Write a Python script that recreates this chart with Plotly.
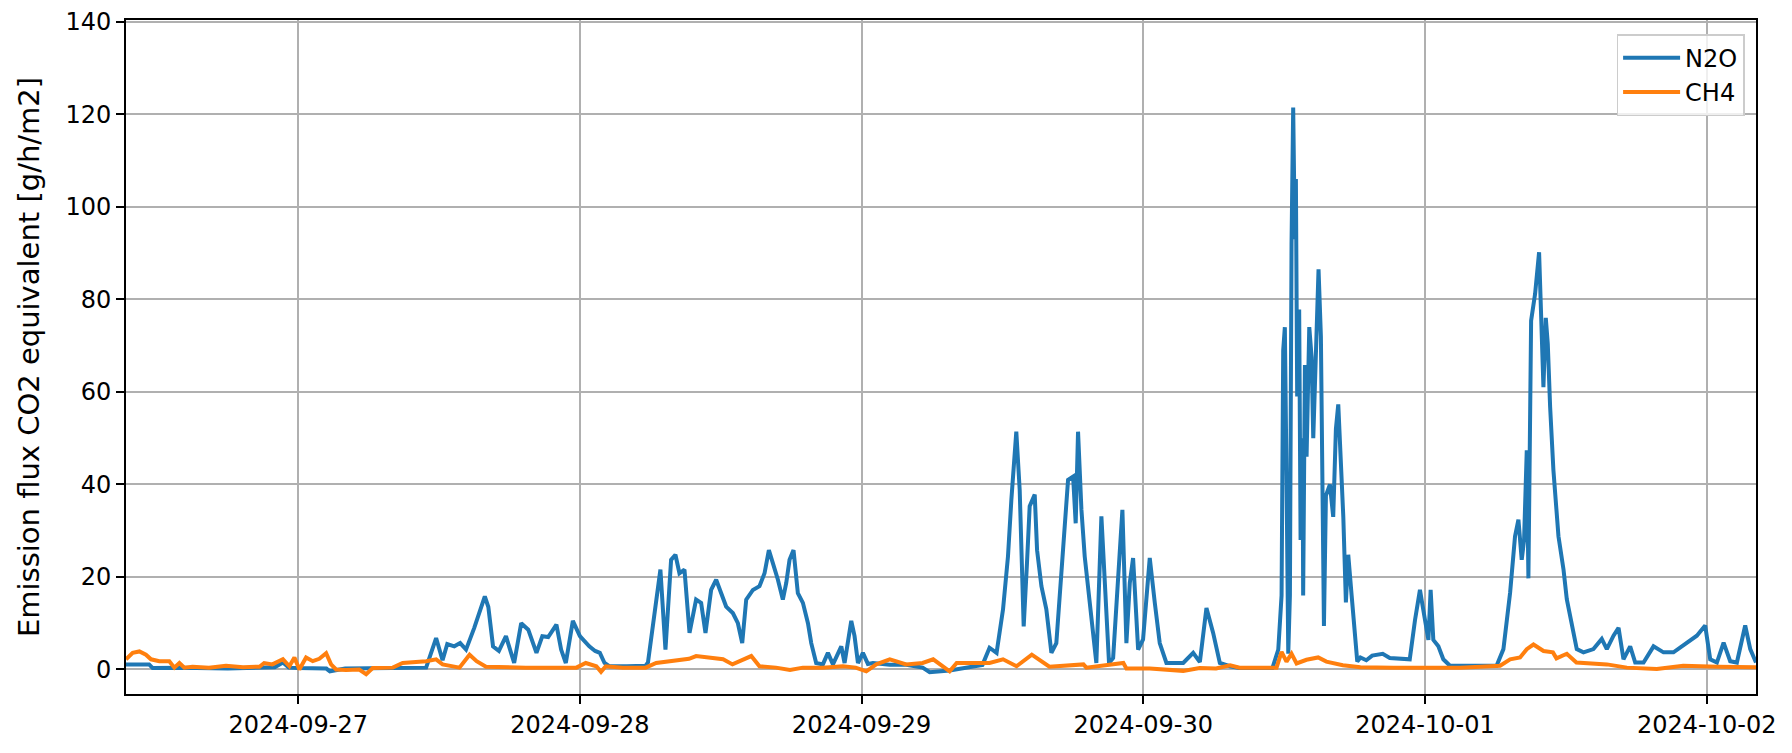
import pandas as pd
import plotly.graph_objects as go

START = pd.Timestamp("2024-09-26")  # Stunden zaehlen ab hier

# N2O - Stunden ab START, Werte in g/h/m2 CO2-Aequivalent
n2o_stunden = [
    9.33, 10.5, 11.3, 11.6, 14.0, 18.0, 22.0, 22.7, 23.2, 24.0,
    26.4, 26.7, 28.0, 32.0, 34.9, 35.75, 36.3, 36.7, 37.3, 37.8,
    38.3, 39.0, 39.5, 39.9, 40.2, 40.6, 41.1, 41.7, 42.4, 43.0,
    43.6, 44.3, 44.8, 45.3, 46.0, 46.4, 46.8, 47.4, 48.0, 48.8,
    49.3, 49.7, 50.1, 50.5, 52.0, 53.6, 53.8, 54.35, 54.86, 55.29,
    55.77, 56.14, 56.48, 56.91, 57.34, 57.9, 58.33, 58.7, 59.18, 59.61,
    60.04, 60.46, 61.03, 61.46, 61.83, 62.17, 62.74, 63.3, 63.73, 64.1,
    64.44, 64.87, 65.29, 65.58, 65.86, 66.2, 66.57, 67.0, 67.43, 67.71,
    68.13, 68.7, 69.13, 69.56, 70.27, 70.55, 71.12, 71.4, 71.69, 72.11,
    72.54, 72.97, 74.4, 75.8, 77.2, 77.8, 79.5, 80.9, 82.3, 82.9,
    83.5, 84.05, 84.47, 84.76, 85.18, 85.47, 85.81, 86.09, 86.32, 86.75,
    86.95, 87.32, 87.74, 88.17, 88.59, 89.16, 89.59, 90.02, 90.24, 90.44,
    90.73, 91.01, 91.44, 92.0, 92.43, 92.72, 93.08, 93.43, 93.85, 94.22,
    94.56, 94.85, 95.13, 95.56, 95.98, 96.27, 96.55, 96.98, 97.4, 97.97,
    99.4, 100.25, 100.82, 101.38, 101.95, 102.52, 103.37, 104.2, 107.0, 107.5,
    107.78, 107.92, 108.06, 108.2, 108.35, 108.49, 108.63, 108.77, 108.91, 109.0,
    109.11, 109.28, 109.4, 109.57, 109.62, 109.77, 109.91, 110.14, 110.34, 110.48,
    110.7, 110.93, 111.13, 111.27, 111.39, 111.56, 111.9, 112.18, 112.41, 112.61,
    112.81, 113.04, 113.26, 113.46, 113.75, 114.03, 114.23, 114.5, 115.0, 115.5,
    116.4, 117.0, 118.0, 118.7, 119.15, 119.57, 120.0, 120.29, 120.48, 120.71,
    121.14, 121.56, 122.13, 126.1, 126.68, 127.25, 127.67, 127.96, 128.24, 128.44,
    128.67, 128.81, 129.04, 129.38, 129.72, 129.89, 130.09, 130.29, 130.46, 130.66,
    130.94, 131.37, 131.8, 132.08, 132.51, 132.93, 133.5, 134.35, 135.06, 135.49,
    136.06, 136.49, 136.91, 137.48, 137.91, 138.62, 139.47, 140.32, 141.17, 142.31,
    143.16, 143.87, 144.3, 144.87, 145.44, 146.0, 146.57, 147.28, 147.71, 148.2,
]
n2o_werte = [
    1.1, 1.0, 1.1, 0.3, 0.4, 0.2, 0.5, 1.5, 0.4, 0.3,
    0.2, -0.4, 0.2, 0.3, 0.4, 6.8, 2.0, 5.5, 5.0, 5.7,
    4.3, 9.0, 13.0, 15.8, 13.5, 5.0, 4.0, 7.2, 1.4, 10.0,
    8.6, 3.6, 7.2, 7.0, 9.7, 4.3, 1.4, 10.5, 7.2, 5.0,
    4.0, 3.6, 1.4, 0.7, 0.7, 0.8, 1.5, 12.0, 21.6, 4.3,
    23.7, 24.8, 20.8, 21.6, 7.9, 15.1, 14.4, 7.9, 17.2, 19.4,
    16.5, 13.6, 12.2, 10.0, 5.7, 15.1, 17.2, 18.0, 20.8, 25.8,
    23.0, 19.4, 15.1, 18.7, 23.7, 25.8, 16.5, 14.4, 10.0, 5.7,
    1.4, 1.1, 3.6, 1.1, 5.0, 1.4, 10.5, 7.2, 1.4, 3.6,
    1.2, 1.4, 1.0, 1.0, 0.4, -0.6, -0.2, 0.3, 1.0, 4.7,
    3.6, 13.0, 24.4, 36.7, 51.4, 38.8, 9.3, 23.0, 35.3, 37.8,
    25.8, 18.0, 13.0, 3.6, 5.7, 25.8, 41.0, 41.7, 31.6, 51.4,
    34.5, 24.4, 13.6, 1.4, 33.1, 18.7, 1.4, 2.5, 18.7, 34.5,
    5.7, 18.7, 24.1, 4.3, 6.5, 14.4, 24.1, 14.4, 5.7, 1.4,
    1.4, 3.6, 1.6, 13.3, 7.9, 1.4, 0.7, 0.3, 0.3, 4.3,
    16.0, 69.0, 74.0, 42.0, 3.4, 16.0, 92.0, 121.5, 93.0, 106.0,
    59.0, 77.8, 28.0, 50.0, 16.0, 65.8, 46.0, 74.0, 67.5, 50.0,
    72.0, 86.5, 72.0, 35.0, 9.4, 37.6, 40.0, 33.0, 52.0, 57.3,
    46.0, 33.0, 14.5, 24.8, 16.0, 7.7, 1.7, 2.6, 2.0, 3.0,
    3.4, 2.5, 2.2, 2.2, 10.7, 17.2, 10.7, 6.4, 17.2, 6.4,
    5.0, 2.2, 0.8, 0.8, 4.4, 16.6, 28.8, 32.4, 23.7, 28.0,
    47.4, 19.7, 75.4, 81.2, 90.2, 76.8, 61.0, 76.0, 70.4, 56.8,
    43.1, 28.8, 21.6, 15.2, 9.5, 4.4, 3.7, 4.4, 6.6, 4.4,
    7.3, 9.0, 2.2, 5.0, 1.5, 1.5, 5.0, 3.7, 3.7, 5.8,
    7.3, 9.5, 2.2, 1.5, 5.8, 1.8, 1.5, 9.5, 4.4, 1.5,
]

# CH4 - gleiche Einheit
ch4_stunden = [
    9.33, 9.9, 10.47, 11.03, 11.46, 12.17, 13.02, 13.45, 13.88, 14.3,
    15.0, 16.4, 17.85, 19.3, 20.7, 21.1, 21.8, 22.7, 23.25, 23.68,
    24.1, 24.67, 25.24, 25.8, 26.38, 26.8, 27.23, 28.08, 29.2, 29.79,
    30.35, 32.06, 32.9, 34.05, 34.9, 35.75, 36.3, 37.74, 38.6, 39.2,
    40.0, 43.4, 47.7, 48.5, 49.4, 49.8, 50.2, 51.65, 53.6, 54.5,
    55.9, 57.3, 57.9, 59.0, 60.2, 61.0, 62.2, 62.6, 63.3, 64.7,
    65.9, 67.0, 68.7, 70.4, 71.5, 72.4, 73.25, 74.4, 75.8, 77.2,
    78.1, 78.65, 79.5, 80.1, 81.5, 82.9, 84.05, 85.2, 86.5, 88.0,
    90.9, 91.15, 94.3, 94.56, 96.55, 99.4, 100.8, 102.2, 103.4, 104.2,
    107.35, 107.78, 108.2, 108.63, 109.06, 109.9, 110.9, 111.6, 113.0, 114.5,
    117.3, 120.1, 123.0, 126.4, 127.25, 128.1, 128.67, 129.24, 130.1, 130.9,
    131.2, 132.08, 132.9, 135.5, 137.2, 139.75, 142.0, 144.9, 148.2,
]
ch4_werte = [
    2.2, 3.6, 3.9, 3.2, 2.2, 1.8, 1.8, 0.4, 1.4, 0.4,
    0.6, 0.4, 0.8, 0.5, 0.6, 1.4, 1.1, 2.2, 0.7, 2.6,
    0.0, 2.6, 1.8, 2.3, 3.5, 1.1, 0.0, -0.1, 0.0, -1.0,
    0.3, 0.4, 1.4, 1.6, 1.8, 2.2, 1.1, 0.4, 3.2, 1.8,
    0.6, 0.4, 0.4, 1.4, 0.7, -0.5, 0.7, 0.4, 0.4, 1.4,
    1.8, 2.3, 2.9, 2.6, 2.2, 1.1, 2.6, 2.9, 0.7, 0.4,
    -0.1, 0.4, 0.4, 0.7, 0.4, -0.4, 1.1, 2.2, 1.1, 1.4,
    2.2, 1.1, -0.4, 1.4, 1.4, 1.4, 2.2, 0.7, 3.2, 0.6,
    1.1, 0.4, 1.4, 0.2, 0.2, -0.3, 0.3, 0.2, 0.9, 0.4,
    0.4, 3.8, 1.7, 3.4, 1.3, 2.1, 2.6, 1.7, 0.9, 0.5,
    0.4, 0.5, 0.4, 0.8, 2.2, 2.6, 4.4, 5.4, 4.0, 3.7,
    2.4, 3.4, 1.5, 1.1, 0.4, 0.1, 0.8, 0.6, 0.5,
]

tick_tage = ["2024-09-27", "2024-09-28", "2024-09-29", "2024-09-30", "2024-10-01", "2024-10-02"]
y_ticks = [0, 20, 40, 60, 80, 100, 120, 140]

n2o_zeit = START + pd.to_timedelta(n2o_stunden, unit="h")
ch4_zeit = START + pd.to_timedelta(ch4_stunden, unit="h")

fig = go.Figure()
fig.add_trace(go.Scatter(x=n2o_zeit, y=n2o_werte, mode="lines", name="N2O",
                         line=dict(color="#1f77b4", width=4)))
fig.add_trace(go.Scatter(x=ch4_zeit, y=ch4_werte, mode="lines", name="CH4",
                         line=dict(color="#ff7f0e", width=4)))

achse = dict(showgrid=True, gridcolor="#b0b0b0", gridwidth=1.9,
             showline=True, linecolor="black", linewidth=1.9, mirror=True,
             ticks="outside", ticklen=8, tickwidth=1.9, tickcolor="black",
             zeroline=False, automargin=False)  # automargin sonst schiebt die 140 den Rand weg

fig.update_xaxes(type="date", range=[n2o_zeit[0], n2o_zeit[-1]],
                 tickvals=pd.to_datetime(tick_tage), tickformat="%Y-%m-%d", **achse)
fig.update_yaxes(range=[-5.3, 140.4], tickvals=y_ticks,
                 title=dict(text="Emission flux CO2 equivalent [g/h/m2]", standoff=17), **achse)

# Browser hat 8px Rand am body -> Figur etwas kleiner
fig.update_layout(
    width=1776, height=737,
    template="plotly_white",  # wie matplotlib: weiss
    plot_bgcolor="white", paper_bgcolor="white",
    font=dict(family="DejaVu Sans", size=24, color="black"),
    margin=dict(l=118, r=28, t=12, b=51),
    legend=dict(x=0.993, y=0.979, xanchor="right", yanchor="top",
                bgcolor="rgba(255,255,255,0.8)", bordercolor="#cccccc", borderwidth=1.5,
                itemwidth=57, font=dict(size=24)),
    showlegend=True,
)

fig.write_html("out.html")
